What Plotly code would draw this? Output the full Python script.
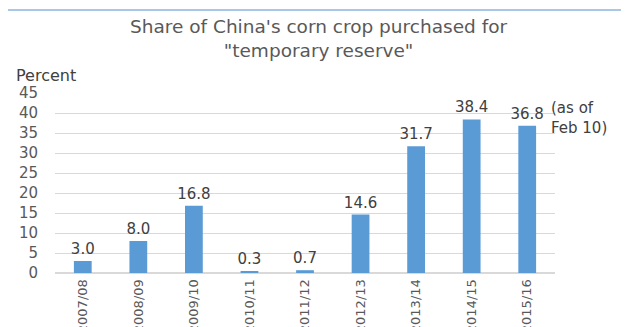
import plotly.graph_objects as go

seasons = ['2007/08', '2008/09', '2009/10', '2010/11', '2011/12',
           '2012/13', '2013/14', '2014/15', '2015/16']
share = [3.0, 8.0, 16.8, 0.3, 0.7, 14.6, 31.7, 38.4, 36.8]
y_ticks = [0, 5, 10, 15, 20, 25, 30, 35, 40, 45]
title_text = "Share of China's corn crop purchased for<br>\"temporary reserve\""
note = '(as of<br>Feb 10)'

FONT = 'DejaVu Sans'
GREY = '#595959'
DARK = '#404040'

fig = go.Figure(go.Bar(
    x=seasons, y=share,
    text=['%.1f' % v for v in share],
    textposition='outside',
    constraintext='none',
    textfont=dict(family=FONT, size=15, color=DARK),
    cliponaxis=False,
    marker=dict(color='#5b9bd5', line=dict(width=0)),
    width=0.32,
))

# title as one annotation so the two lines stay close together
fig.add_annotation(x=0.526, y=1.3, xref='paper', yref='paper', text=title_text,
                   showarrow=False, xanchor='center', yanchor='middle',
                   font=dict(family=FONT, size=18.5, color=GREY))

# note next to the last bar's label
fig.add_annotation(x=seasons[-1], y=share[-1], xref='x', yref='y',
                   text=note, showarrow=False, xanchor='left', yanchor='bottom',
                   align='left', xshift=22, yshift=-13,
                   font=dict(family=FONT, size=15, color=DARK))

fig.add_annotation(x=-0.082, y=1.0, xref='paper', yref='paper',
                   text='Percent', showarrow=False, xanchor='left', yanchor='middle',
                   yshift=18, font=dict(family=FONT, size=16, color=DARK))

# thin blue frame line across the top
fig.add_shape(type='line', xref='paper', yref='paper',
              x0=-0.1, x1=1.2, y0=1.461, y1=1.461,
              line=dict(color='#a9c8e8', width=2))

fig.update_layout(
    width=629, height=327,
    margin=dict(l=47, r=82, t=85, b=62),
    paper_bgcolor='white', plot_bgcolor='white',
    showlegend=False,
    xaxis=dict(tickangle=-90, tickfont=dict(family=FONT, size=13, color=GREY),
               range=[-0.5, len(seasons) - 0.5], automargin=False,
               showline=True, linecolor='#d9d9d9', ticks='', showgrid=False),
    yaxis=dict(range=[0, 45], tickvals=y_ticks, showgrid=True, gridcolor='#d9d9d9',
               zeroline=True, zerolinecolor='#d9d9d9', ticks='', automargin=False,
               ticklabelstandoff=16,
               tickfont=dict(family=FONT, size=15, color=GREY)),
)

fig.write_html('out.html')
